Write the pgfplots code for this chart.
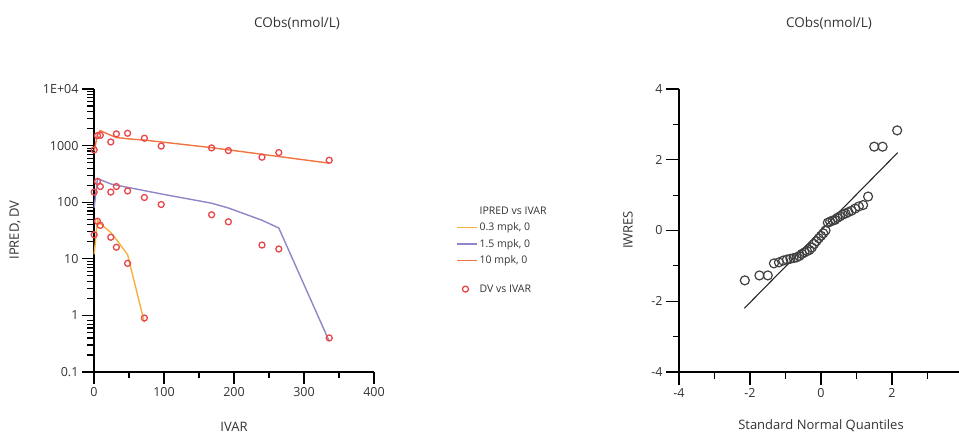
\documentclass[border=0pt]{standalone}
\usepackage{fontspec}
\setmainfont{Open Sans}
\usepackage{pgfplots}
\pgfplotsset{compat=1.18}

\definecolor{cLow}{HTML}{F4B13E}
\definecolor{cMid}{HTML}{8E86C6}
\definecolor{cHigh}{HTML}{F0743F}
\definecolor{cDV}{HTML}{E8474A}
\definecolor{txt}{HTML}{333333}

\pgfplotsset{
  every axis title shift=0pt,
  panel/.style={
    scale only axis,
    axis lines*=left,
    axis line style={line width=1.8pt, black},
    tick align=outside,
    tick style={line width=1.2pt, black},
    major tick length=12pt,
    minor tick length=6.5pt,
    tick label style={font=\fontsize{12.5}{14}\selectfont, text=txt},
    /pgf/number format/assume math mode=true,
    label style={font=\fontsize{13}{15}\selectfont, text=txt},
    title style={font=\fontsize{13.5}{16}\selectfont, text=txt, anchor=center},
    clip=false,
  },
  ipred/.style={line width=1.4pt,
    legend image code/.code={%
      \draw[mark repeat=2,mark phase=2,##1] plot coordinates {(0pt,0pt) (10pt,0pt) (20pt,0pt)};}},
}

\begin{document}
\begin{tikzpicture}

% concentration-time panel
\begin{axis}[panel,
    at={(94pt,62pt)}, anchor=south west,
    width=280pt, height=283pt,
    xmin=0, xmax=400,
    ymode=log, ymin=0.1, ymax=10000,
    xtick={0,100,200,300,400},
    minor xtick={50,150,250,350},
    ytick={0.1,1,10,100,1000,10000},
    yticklabels={0.1,1,10,100,1000,1E+04},
    minor ytick={0.2,0.3,...,0.9,2,3,...,9,20,30,...,90,200,300,...,900,2000,3000,...,9000},
    xlabel={IVAR},
    ylabel={IPRED, DV},
    xlabel style={at={(axis description cs:0.5,-0.194)}, anchor=center},
    ylabel style={at={(axis description cs:-0.282,0.502)}, anchor=center},
    title={CObs(nmol/L)},
    title style={at={(axis description cs:0.725,1.233)}},
    legend style={at={(axis description cs:1.293,0.592)}, anchor=north west,
      draw=none, fill=none, font=\fontsize{10.5}{12.5}\selectfont, text=txt,
      row sep=3pt, inner sep=0pt},
    legend cell align=left,
]
\addlegendimage{empty legend}\addlegendentry{IPRED vs IVAR}

\addplot[color=cLow, ipred] coordinates {
  (0.25,12) (5,48) (9,42) (24,29) (32,22) (48,11.8) (72,0.75)
};
\addlegendentry{0.3 mpk, 0}

\addplot[color=cMid, ipred] coordinates {
  (0.25,80) (5,262) (9,250) (24,210) (32,200) (48,183) (72,160) (96,140)
  (168,96) (192,79) (240,48) (264,35) (336,0.35)
};
\addlegendentry{1.5 mpk, 0}

\addplot[color=cHigh, ipred] coordinates {
  (0.25,800) (5,1600) (9,1840) (24,1520) (32,1390) (48,1320) (72,1250) (96,1160)
  (168,920) (192,841) (240,703) (264,641) (336,490)
};
\addlegendentry{10 mpk, 0}

\addlegendimage{empty legend}\addlegendentry{\rule{0pt}{4pt}}

\addplot[only marks, mark=o, mark size=3pt, color=cDV, line width=1.3pt] coordinates {
  (0.25,840) (5,1500) (9,1520) (24,1160) (32,1610) (48,1650) (72,1350) (96,980)
  (168,910) (192,817) (240,624) (264,754) (336,552)
  (0.25,151) (5,232) (9,189) (24,151) (32,189) (48,158) (72,121) (96,91)
  (168,60) (192,45) (240,17.5) (264,14.9) (336,0.40)
  (0.25,26.6) (5,46) (9,39) (24,24) (32,16) (48,8.3) (72,0.9)
};
\addlegendentry{DV vs IVAR}
\end{axis}

% QQ panel
\begin{axis}[panel,
    at={(679pt,62pt)}, anchor=south west,
    width=284pt, height=283pt,
    xmin=-4, xmax=4, ymin=-4, ymax=4,
    xtick={-4,-2,0,2,4}, xticklabels={-4,-2,0,2,4},
    ytick={-4,-2,0,2,4}, yticklabels={-4,-2,0,2,4},
    minor xtick={-3,-1,1,3}, minor ytick={-3,-1,1,3},
    major tick length=13pt,
    xlabel={Standard Normal Quantiles},
    ylabel={IWRES},
    xlabel style={at={(axis description cs:0.5,-0.191)}, anchor=center},
    ylabel style={at={(axis description cs:-0.18,0.502)}, anchor=center},
    title={CObs(nmol/L)},
    title style={at={(axis description cs:0.528,1.233)}},
]
\addplot[black!85, line width=1.1pt] coordinates {(-2.16,-2.2) (2.16,2.2)};

\addplot[only marks, mark=o, mark size=4.5pt, black!75, line width=1.2pt] coordinates {
  (-2.146,-1.41) (-1.735,-1.27) (-1.499,-1.27) (-1.326,-0.93) (-1.186,-0.90)
  (-1.066,-0.85) (-0.959,-0.82) (-0.862,-0.80) (-0.773,-0.78) (-0.690,-0.76)
  (-0.611,-0.72) (-0.536,-0.66) (-0.463,-0.62) (-0.393,-0.58) (-0.324,-0.55)
  (-0.258,-0.48) (-0.192,-0.38) (-0.128,-0.30) (-0.064,-0.22) (0,-0.15)
  (0.064,-0.08) (0.128,0.00) (0.192,0.22) (0.258,0.25) (0.324,0.28)
  (0.393,0.30) (0.463,0.36) (0.536,0.40) (0.611,0.45) (0.690,0.48)
  (0.773,0.52) (0.862,0.56) (0.959,0.62) (1.066,0.68) (1.186,0.72)
  (1.326,0.96) (1.499,2.37) (1.735,2.37) (2.146,2.83)
};
\end{axis}

\pgfresetboundingbox
\useasboundingbox (0,0) rectangle (959pt,434pt);
\end{tikzpicture}
\end{document}
